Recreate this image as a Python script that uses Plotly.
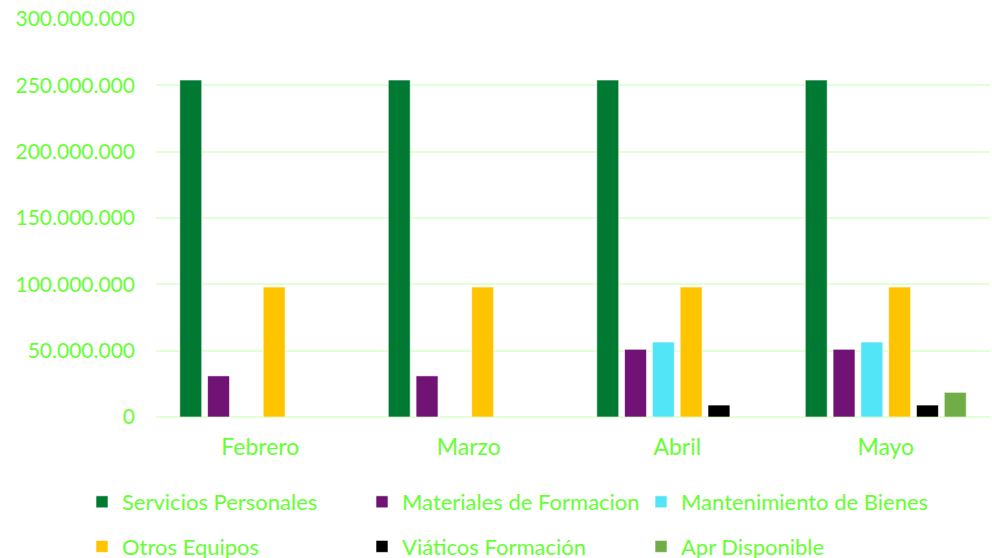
import plotly.graph_objects as go

categories = ["Febrero", "Marzo", "Abril", "Mayo"]
servicios_personales = [254000000, 254000000, 254000000, 254000000]
materiales_formacion = [31000000, 31000000, 51000000, 51000000]
mantenimiento_bienes = [None, None, 56500000, 56500000]
otros_equipos = [98000000, 98000000, 98000000, 98000000]
viaticos_formacion = [None, None, 9000000, 9000000]
apr_disponible = [None, None, None, 18600000]

series = [
    ("Servicios Personales", servicios_personales, "#007A33", "legend"),
    ("Materiales de Formacion", materiales_formacion, "#701375", "legend2"),
    ("Mantenimiento de Bienes", mantenimiento_bienes, "#52E5F8", "legend3"),
    ("Otros Equipos", otros_equipos, "#FFC400", "legend"),
    ("Viáticos Formación", viaticos_formacion, "#000000", "legend2"),
    ("Apr Disponible", apr_disponible, "#70AD47", "legend3"),
]

text_color = "#66FF33"
font_family = "Lato, Carlito, Calibri, sans-serif"

fig = go.Figure()
for name, vals, color, lg in series:
    fig.add_trace(go.Bar(
        x=categories, y=vals, name=name, legend=lg, legendgroup=name,
        marker=dict(color=color, line=dict(color="rgba(255,255,255,0.6)", width=1)),
    ))

legend_common = dict(orientation="v", xref="container", yref="container",
                     xanchor="left", yanchor="top", y=1 - 481 / 558,
                     tracegroupgap=13,
                     font=dict(size=22, color=text_color), itemwidth=30,
                     bgcolor="rgba(0,0,0,0)")

fig.update_layout(
    width=992, height=558,
    margin=dict(l=156, r=2, t=19, b=141, autoexpand=False),
    paper_bgcolor="white", plot_bgcolor="white",
    barmode="group", bargap=0.2, bargroupgap=0.21,
    separators=",.",
    font=dict(family=font_family, size=21, color=text_color),
    xaxis=dict(showgrid=False, showline=False, ticks="", automargin=False,
               ticklabelstandoff=14, tickfont=dict(size=23, color=text_color)),
    yaxis=dict(range=[0, 300000000], dtick=50000000, tickformat=",d", automargin=False,
               gridcolor="#E2FFD6", gridwidth=2, zeroline=True, zerolinecolor="#E2FFD6", zerolinewidth=2,
               showline=False, ticks="", ticklabelstandoff=20,
               tickfont=dict(size=21, color=text_color)),
    legend=dict(legend_common, x=82 / 992),
    legend2=dict(legend_common, x=362 / 992),
    legend3=dict(legend_common, x=641 / 992),
    showlegend=True,
)

fig.write_html("out.html", config={"displayModeBar": False},
               post_script="document.body.style.margin='0px';document.body.style.overflow='hidden';")
